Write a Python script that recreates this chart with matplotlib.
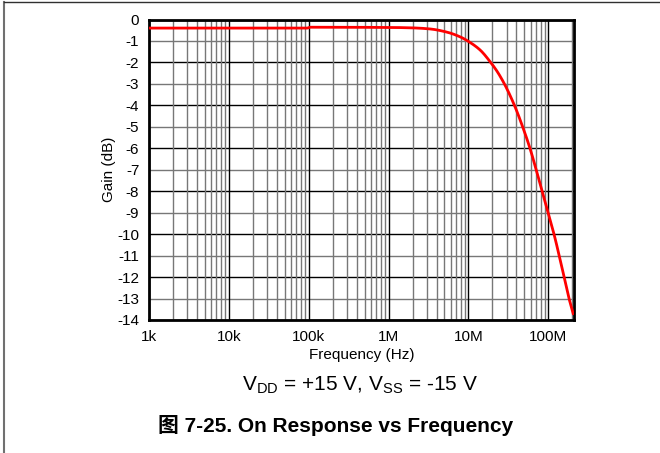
import matplotlib
matplotlib.use("Agg")
import matplotlib.pyplot as plt
import numpy as np
from matplotlib.lines import Line2D
from matplotlib.ticker import LogLocator, NullFormatter

plt.rcParams['font.family'] = ['Liberation Sans', 'Noto Sans CJK SC', 'DejaVu Sans']

# 读图得到的数据 (Hz, dB)
freq = [1e3, 1e4, 9.5e4, 1.05e5, 1e6, 2e6, 3.3e6, 5.4e6, 8e6, 1e7, 1.4e7, 1.9e7,
        2.3e7, 2.85e7, 3.8e7, 4.8e7, 5.9e7, 7.0e7, 8.3e7, 9.9e7, 1.18e8, 1.37e8, 1.58e8,
        1.82e8, 2.05e8]
gain = [-0.40, -0.40, -0.40, -0.36, -0.37, -0.39, -0.44, -0.59, -0.82, -1.02, -1.42, -2.0,
        -2.43, -3.03, -4.03, -5.02, -6.0, -6.95, -7.95, -8.97, -10.0, -11.0, -12.0,
        -13.0, -13.7]

x_ticks = [1e3, 1e4, 1e5, 1e6, 1e7, 1e8]
x_labels = ['1k', '10k', '100k', '1M', '10M', '100M']
y_ticks = list(range(-14, 1))


def pchip(x, y, xn):
    # 单调三次插值，让曲线平滑
    x = np.asarray(x); y = np.asarray(y)
    h = np.diff(x); d = np.diff(y) / h
    m = np.zeros_like(y)
    for k in range(1, len(x) - 1):
        if d[k - 1] * d[k] > 0:
            w1 = 2 * h[k] + h[k - 1]; w2 = h[k] + 2 * h[k - 1]
            m[k] = (w1 + w2) / (w1 / d[k - 1] + w2 / d[k])
    m[0] = d[0]; m[-1] = d[-1]
    i = np.clip(np.searchsorted(x, xn) - 1, 0, len(h) - 1)
    t = (xn - x[i]) / h[i]
    h00 = 2 * t**3 - 3 * t**2 + 1; h10 = t**3 - 2 * t**2 + t
    h01 = -2 * t**3 + 3 * t**2; h11 = t**3 - t**2
    return h00 * y[i] + h10 * h[i] * m[i] + h01 * y[i + 1] + h11 * h[i] * m[i + 1]


fig = plt.figure(figsize=(6.6, 4.53), dpi=100)
ax = fig.add_axes([149 / 660, 1 - 320 / 453, 425 / 660, 300.5 / 453])

lf = np.log10(freq)
xs = np.linspace(lf[0], lf[-1], 800)
ys = pchip(lf, gain, xs)
ax.plot(10 ** xs, ys, color='#ff0000', lw=2, zorder=5, solid_joinstyle='round')

ax.set_xscale('log')
ax.set_xlim(1e3, 2.1e8)
ax.set_ylim(-14, 0)

ax.set_xticks(x_ticks)
ax.set_xticklabels(x_labels)
ax.xaxis.set_minor_locator(LogLocator(base=10, subs=np.arange(2, 10)))
ax.xaxis.set_minor_formatter(NullFormatter())
ax.set_yticks(y_ticks)
ax.set_yticklabels([str(v) for v in y_ticks])

# 网格：十倍频和偶数 dB 为黑色，其余为灰色
ax.grid(which='major', axis='x', color='black', lw=1)
ax.grid(which='minor', axis='x', color='#777777', lw=1)
for v in y_ticks:
    ax.axhline(v, color='black' if v % 2 == 0 else '#777777', lw=1, zorder=1)

ax.tick_params(which='both', length=0, labelsize=11, pad=7)
for s in ax.spines.values():
    s.set_linewidth(2)

ax.set_xlabel('Frequency (Hz)', fontsize=11, labelpad=3)
ax.set_ylabel('Gain (dB)', fontsize=11, labelpad=1)

fig.text(360 / 660, 1 - 385 / 453, r'V$_\mathregular{DD}$ = +15 V, V$_\mathregular{SS}$ = -15 V',
         ha='center', va='center', fontsize=15)
fig.text(336 / 660, 1 - 426 / 453, '图 7-25. On Response vs Frequency',
         ha='center', va='center', fontsize=15, fontweight='bold')

# 外框线
fig.add_artist(Line2D([4 / 660, 4 / 660], [0, 1 - 2 / 453], color='#707070', lw=1.5))
fig.add_artist(Line2D([4 / 660, 1], [1 - 2 / 453, 1 - 2 / 453], color='#303030', lw=1))

fig.savefig('out.png', dpi=100)
